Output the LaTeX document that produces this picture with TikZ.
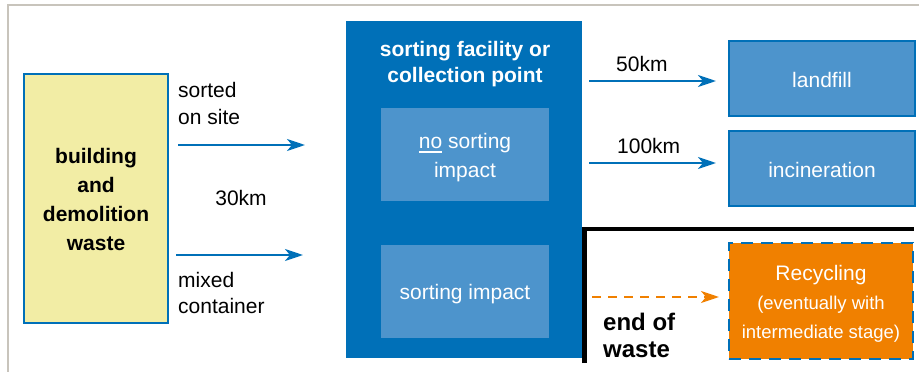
\documentclass[tikz,border=0pt]{standalone}
\usepackage{fontspec}
\setmainfont{Liberation Sans}
\usetikzlibrary{arrows.meta}
\definecolor{framegray}{RGB}{200,196,188}
\definecolor{deepblue}{RGB}{0,112,184}
\definecolor{midblue}{RGB}{77,148,204}
\definecolor{sand}{RGB}{242,237,165}
\definecolor{amber}{RGB}{240,128,0}
\newsavebox\ulbox
\newcommand\ulword[1]{\sbox\ulbox{#1}\rlap{\rule[-4.6pt]{\wd\ulbox}{1.4pt}}\usebox\ulbox}
\begin{document}
\begin{tikzpicture}[x=1pt,y=-1pt,
  panel/.style={inner sep=0pt, outer sep=0pt, anchor=north west},
  outbox/.style={panel, draw=deepblue, line width=2pt, fill=midblue},
  txt/.style={inner sep=0pt, anchor=base, font=\fontsize{21}{25}\selectfont},
  txtl/.style={txt, anchor=base west},
  btxt/.style={txt, font=\fontsize{21}{25}\selectfont\bfseries},
  wtxt/.style={txt, text=white},
  small/.style={txt, text=white, font=\fontsize{18.5}{22}\selectfont},
  flow/.style={draw=deepblue, line width=2.5pt, -{Stealth[length=18pt,width=12pt,inset=5pt]}},
  eow/.style={draw=amber, line width=2.5pt, dash pattern=on 9pt off 7pt,
    -{Stealth[length=18pt,width=12pt,inset=5pt,sep=0pt]}}]
\useasboundingbox (0,0) rectangle (919,372);

% page frame
\draw[framegray, line width=1.5pt] (8,372) -- (8,5) -- (919,5);

% source of the waste
\node[panel, draw=deepblue, line width=2pt, fill=sand,
  minimum width=144pt, minimum height=249pt] (waste) at (24,74) {};
\node[btxt] (w1) at (96,163) {building};
\node[btxt] (w2) at (96,192) {and};
\node[btxt] (w3) at (96,221) {demolition};
\node[btxt] (w4) at (96,250) {waste};

% transport to the facility
\node[txtl] (so1) at (178,97) {sorted};
\node[txtl] (so2) at (178,124) {on site};
\node[txt] (dist) at (241,205) {30km};
\node[txtl] (mc1) at (178,287) {mixed};
\node[txtl] (mc2) at (178,313) {container};
\coordinate (a1s) at (178,145);
\coordinate (a1e) at (305,145);
\coordinate (a2s) at (176,255);
\coordinate (a2e) at (303,255);
\draw[flow] (a1s) -- (a1e);
\draw[flow] (a2s) -- (a2e);

% sorting facility
\node[panel, fill=deepblue, minimum width=236pt, minimum height=337pt] (facility) at (346,21) {};
\node[btxt, text=white] (f1) at (465,56) {sorting facility or};
\node[btxt, text=white] (f2) at (465,82) {collection point};
\node[panel, fill=midblue, minimum width=168pt, minimum height=93pt] (nosort) at (381,108) {};
\node[wtxt] (ns1) at (465,148) {\ulword{no} sorting};
\node[wtxt] (ns2) at (465,177) {impact};
\node[panel, fill=midblue, minimum width=168pt, minimum height=93pt] (sort) at (381,245) {};
\node[wtxt] (si) at (465,299) {sorting impact};

% disposal routes
\node[outbox, minimum width=186pt, minimum height=75pt] (landfill) at (729,41) {};
\node[wtxt] (lf) at (822,87) {landfill};
\node[outbox, minimum width=186pt, minimum height=75pt] (incin) at (729,131) {};
\node[wtxt] (ic) at (822,177) {incineration};
\node[txtl] (d50) at (616,71) {50km};
\node[txtl] (d100) at (617,153) {100km};
\coordinate (a3s) at (589,81);
\coordinate (a3e) at (716,81);
\coordinate (a4s) at (589,163);
\coordinate (a4e) at (716,163);
\draw[flow] (a3s) -- (a3e);
\draw[flow] (a4s) -- (a4e);

% end-of-waste boundary
\coordinate (eb) at (584.5,363);
\coordinate (ec) at (584.5,229);
\coordinate (ee) at (914,229);
\draw[line width=4.5pt, line join=miter] (eb) -- (ec) -- (ee);
\node[txtl, font=\fontsize{24}{28}\selectfont\bfseries] (eo1) at (603,330) {end of};
\node[txtl, font=\fontsize{24}{28}\selectfont\bfseries] (eo2) at (603,357) {waste};

% recycling
\node[panel, fill=amber, draw=deepblue, line width=2pt, dash pattern=on 12pt off 8pt,
  minimum width=184pt, minimum height=116pt] (recycle) at (729,243) {};
\node[wtxt] (r1) at (821,280) {Recycling};
\node[small] (r2) at (821,309) {(eventually with};
\node[small] (r3) at (821,338) {intermediate stage)};
\coordinate (a5s) at (592,297);
\coordinate (a5e) at (719,297);
\draw[eow] (a5s) -- (a5e);
\end{tikzpicture}
\end{document}
